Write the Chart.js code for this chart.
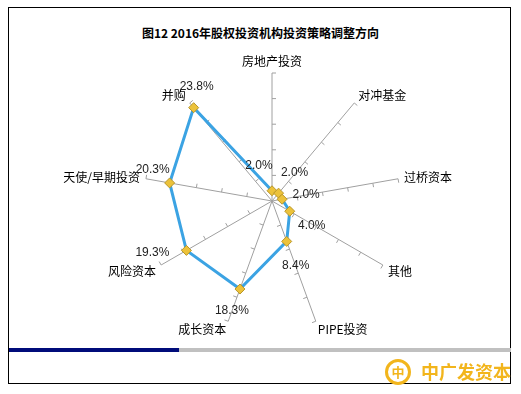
<!DOCTYPE html>
<html>
<head>
<meta charset="utf-8">
<script src="https://cdn.jsdelivr.net/npm/chart.js@4"></script>
<style>
    html, body { margin: 0; padding: 0; background: #fff; }
    #wrap { position: relative; width: 521px; height: 394px; overflow: hidden; }
    #frame { position: absolute; left: 8px; top: 7px; width: 503px; height: 377px; border: 1px solid #000; box-sizing: border-box; }
    #title { position: absolute; left: 0; width: 521px; top: 24px; text-align: center; font: bold 12px "Noto Sans CJK SC", sans-serif; color: #000; }
    #bar-navy { position: absolute; left: 9px; top: 348px; width: 170px; height: 4px; background: #000c7a; }
    #bar-gray { position: absolute; left: 179px; top: 348px; width: 332px; height: 4px; background: #c0c0c0; }
    #logo-ring { position: absolute; left: 385px; top: 359px; width: 20px; height: 20px; border: 3px solid #f2b51c; border-radius: 50%; color: #f2b51c; font: bold 13px "Noto Sans CJK SC", sans-serif; line-height: 20px; text-align: center; }
    #logo-text { position: absolute; left: 421px; top: 360px; font: bold 18px "Noto Sans CJK SC", sans-serif; line-height: 22px; color: #f2b51c; letter-spacing: 0px; }
    canvas { position: absolute; left: 0; top: 0; }
</style>
</head>
<body>
<div id="wrap">
    <div id="frame"></div>
    <div id="title">图12 2016年股权投资机构投资策略调整方向</div>
    <canvas id="chart" width="521" height="394"></canvas>
    <div id="bar-navy"></div>
    <div id="bar-gray"></div>
    <div id="logo-ring">中</div>
    <div id="logo-text">中广发资本</div>
</div>
<script>
// 投资策略方向及占比
const categories = ['房地产投资', '对冲基金', '过桥资本', '其他', 'PIPE投资', '成长资本', '风险资本', '天使/早期投资', '并购'];
const shares = [2.0, 2.0, 2.0, 4.0, 8.4, 18.3, 19.3, 20.3, 23.8];
const tickValues = [5, 10, 15, 20, 25];
// 数值标签相对于数据点的偏移 (文本中心)
const labelOffsets = [[-13, -25], [16, -20], [24, -5], [22, 14], [9, 24], [-8, 22], [-34, 2], [-17, -13], [3, -21]];

// 坐标轴上的小刻度 + 轴名称
const axisDecor = {
    id: 'axisDecor',
    beforeDatasetsDraw(chart) {
        const scale = chart.scales.r;
        const ctx = chart.ctx;
        const n = categories.length;
        ctx.save();
        ctx.strokeStyle = '#a0a0a0';
        ctx.lineWidth = 1;
        for (let i = 0; i < n; i++) {
            const a = scale.getIndexAngle(i);
            const px = Math.cos(a), py = Math.sin(a);
            tickValues.forEach(v => {
                const p = scale.getPointPosition(i, scale.getDistanceFromCenterForValue(v));
                ctx.beginPath();
                ctx.moveTo(p.x, p.y);
                ctx.lineTo(p.x + px * 4, p.y + py * 4);
                ctx.stroke();
            });
        }
        ctx.fillStyle = '#000';
        ctx.font = '12px "Noto Sans CJK SC", sans-serif';
        const rMax = scale.getDistanceFromCenterForValue(scale.max);
        for (let i = 0; i < n; i++) {
            const deg = (scale.getIndexAngle(i) * 180 / Math.PI) % 360;
            const p = scale.getPointPosition(i, rMax + 6);
            if (deg < 1) { ctx.textAlign = 'center'; ctx.textBaseline = 'bottom'; }
            else if (deg < 180) { ctx.textAlign = 'left'; ctx.textBaseline = 'middle'; }
            else { ctx.textAlign = 'right'; ctx.textBaseline = 'middle'; }
            let y = p.y;
            if (deg > 100 && deg < 260) y += 3;
            if (deg > 280 || (deg > 0 && deg < 80)) y -= 3;
            ctx.fillText(categories[i], p.x, y);
        }
        ctx.restore();
    },
    afterDatasetsDraw(chart) {
        const meta = chart.getDatasetMeta(0);
        const ctx = chart.ctx;
        ctx.save();
        ctx.fillStyle = '#222';
        ctx.font = '12px "Liberation Sans", Arial, sans-serif';
        ctx.textAlign = 'center';
        ctx.textBaseline = 'middle';
        meta.data.forEach((pt, i) => {
            const off = labelOffsets[i];
            ctx.fillText(shares[i].toFixed(1) + '%', pt.x + off[0], pt.y + off[1]);
        });
        ctx.restore();
    }
};

new Chart(document.getElementById('chart'), {
    type: 'radar',
    data: {
        labels: categories,
        datasets: [{
            data: shares,
            borderColor: '#3ba3e3',
            borderWidth: 3,
            fill: false,
            pointStyle: 'rectRot',
            pointRadius: 5,
            pointBackgroundColor: '#ecc23a',
            pointBorderColor: '#b8962a',
            pointBorderWidth: 1,
            tension: 0
        }]
    },
    options: {
        responsive: false,
        animation: false,
        layout: { padding: { left: 144, right: 121, top: 73, bottom: 65 } },
        scales: {
            r: {
                min: 0,
                max: 25,
                grid: { display: false },
                angleLines: { color: '#a0a0a0', lineWidth: 1 },
                ticks: { display: false, stepSize: 5 },
                pointLabels: { display: false }
            }
        },
        plugins: { legend: { display: false }, tooltip: { enabled: false } }
    },
    plugins: [axisDecor]
});
</script>
</body>
</html>
